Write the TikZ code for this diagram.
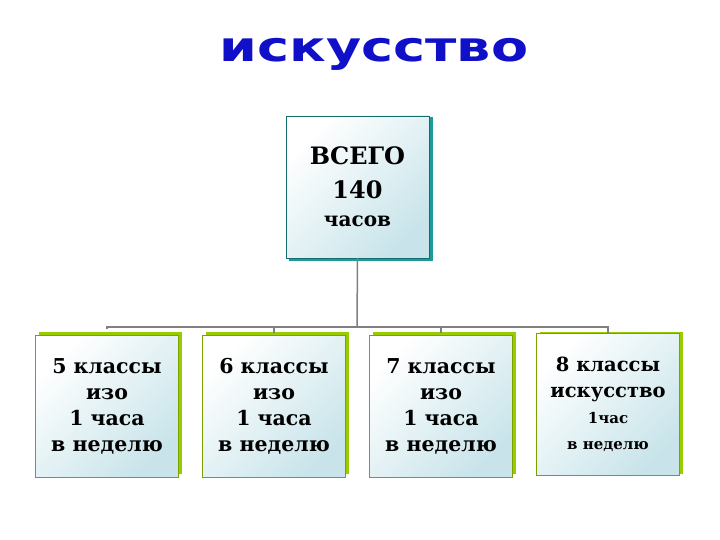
\documentclass[tikz,border=0pt]{standalone}
\usepackage{fontspec}
\setmainfont{DejaVu Serif}
\newfontfamily\titlefont{DejaVu Sans}
\begin{document}
\begin{tikzpicture}[x=1pt,y=-1pt]
\definecolor{teal1}{HTML}{1E9A9A}
\definecolor{green1}{HTML}{99CC00}
\definecolor{shade1}{HTML}{C8E4EA}
\definecolor{ttl}{HTML}{1010C8}
\tikzset{
 boxbase/.style={minimum width=143pt,minimum height=142pt,inner sep=0pt,align=center,font=\bfseries,
   shading=axis,left color=white,right color=shade1,shading angle=45},
 topbox/.style={boxbase,draw=teal1!70!black,line width=0.6pt,font=\bfseries\fontsize{24}{34}\selectfont},
 lowbox/.style={boxbase,draw=green1!80!black,line width=0.6pt,font=\bfseries\fontsize{20.5}{26}\selectfont},
 conn/.style={draw=gray,line width=1.5pt}
}
\useasboundingbox (0,0) rectangle (720,540);
\fill[white] (0,0) rectangle (720,540);
% title
\node[font=\titlefont\bfseries\fontsize{36}{36}\selectfont,text=ttl,xscale=1.5,yscale=1.15] (title) at (374,54) {искусство};
% top box
\fill[teal1] (289,117) rectangle (433,261);
\node[topbox] (top) at (357.5,187) {ВСЕГО\\140\\[-6pt]{\fontsize{20}{22}\selectfont часов}};
% lower boxes
\foreach \n/\x in {a/107,b/274,c/441,d/608}{
  \fill[green1] (\x-68,332) rectangle (\x+75,474);
}
\node[lowbox] (a) at (107,406) {5 классы\\изо\\1 часа\\в неделю};
\node[lowbox] (b) at (274,406) {6 классы\\изо\\1 часа\\в неделю};
\node[lowbox] (c) at (441,406) {7 классы\\изо\\1 часа\\в неделю};
\node[lowbox,font=\bfseries\fontsize{19.5}{26}\selectfont] (d) at (608,404) {8 классы\\искусство\\{\fontsize{15}{20}\selectfont 1час}\\{\fontsize{15}{16}\selectfont в неделю}};
% connectors
\coordinate (bus) at (357,327);
\draw[conn] (top.south) -- (bus);
\draw[conn] (a.north) ++(0,-6) |- (d.north |- bus) -- ++(0,6);
\draw[conn] (b.north |- bus) -- ++(0,6);
\draw[conn] (c.north |- bus) -- ++(0,6);
\end{tikzpicture}
\end{document}
